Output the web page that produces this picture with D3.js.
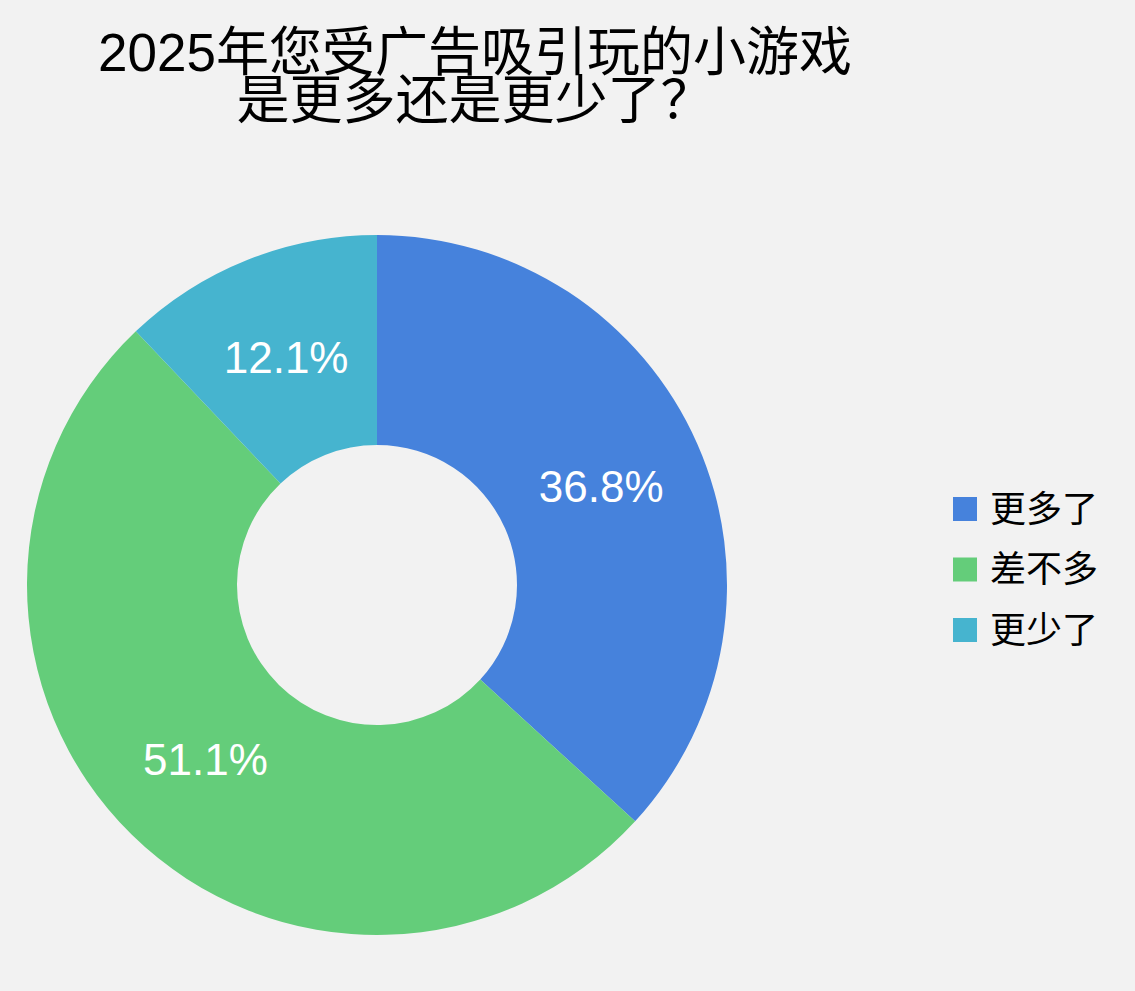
<!DOCTYPE html>
<html><head><meta charset="utf-8">
<script src="https://cdn.jsdelivr.net/npm/d3@7"></script>
<style>html,body{margin:0;padding:0;background:#f2f2f2;}svg{display:block;}</style>
</head><body>
<script>
const categories = ["更多了", "差不多", "更少了"];
const values = [36.8, 51.1, 12.1];
const colors = ["#4682dc", "#64cd7a", "#46b4cf"];
const titleLines = ["2025年您受广告吸引玩的小游戏", "是更多还是更少了？"];

const W = 1135, H = 991;
const font = "'Liberation Sans', Arial, 'Noto Sans CJK SC', sans-serif";
const svg = d3.select("body").append("svg").attr("width", W).attr("height", H);
svg.append("rect").attr("width", W).attr("height", H).attr("fill", "#f2f2f2");

svg.append("g").selectAll("text").data(titleLines).join("text")
  .attr("x", 475).attr("y", (d, i) => 71 + i * 48)
  .attr("text-anchor", "middle").attr("font-family", font)
  .attr("font-size", 53).attr("fill", "#000").text(d => d);

const cx = 377, cy = 585, rOut = 350, rIn = 140;
const color = d3.scaleOrdinal().domain(categories).range(colors);
const pie = d3.pie().sort(null).value(d => d.v);
const data = pie(categories.map((c, i) => ({c, v: values[i]})));
const arc = d3.arc().innerRadius(rIn).outerRadius(rOut);
const g = svg.append("g").attr("transform", `translate(${cx},${cy})`);
g.selectAll("path").data(data).join("path")
  .attr("d", arc).attr("fill", d => color(d.data.c));
g.selectAll("text").data(data).join("text")
  .attr("transform", d => `translate(${arc.centroid(d)})`)
  .attr("text-anchor", "middle").attr("dominant-baseline", "central")
  .attr("font-family", font).attr("font-size", 44).attr("fill", "#fff")
  .text(d => d.data.v.toFixed(1) + "%");

const leg = svg.append("g").selectAll("g").data(categories).join("g")
  .attr("transform", (d, i) => `translate(953,${509 + i * 60.5})`);
leg.append("rect").attr("x", 0).attr("y", -12).attr("width", 24).attr("height", 24)
  .attr("fill", d => color(d));
leg.append("text").attr("x", 37).attr("y", 0).attr("dominant-baseline", "central")
  .attr("font-family", font).attr("font-size", 36).attr("fill", "#000").text(d => d);
</script>
</body></html>
